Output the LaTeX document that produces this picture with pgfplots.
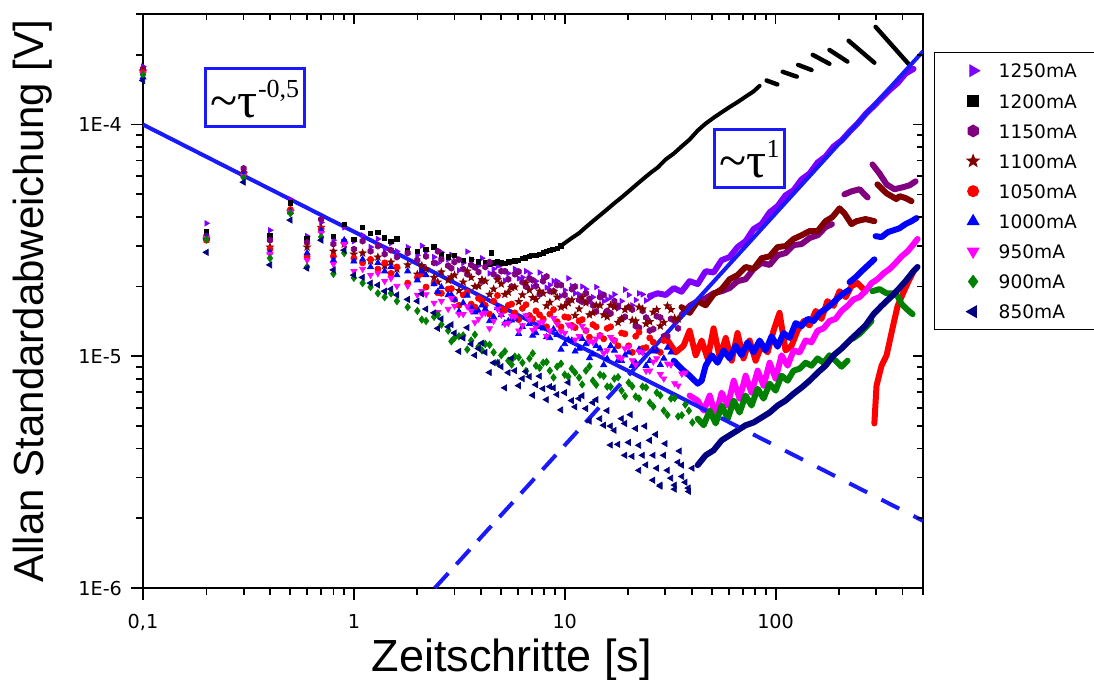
\documentclass[border=0pt]{standalone}
\usepackage{fontspec}
\setmainfont{Liberation Sans}
\newfontfamily\tfont{Liberation Serif}
\newfontfamily\dvfont{DejaVu Sans}
\usepackage{pgfplots}
\pgfplotsset{compat=1.18}
\usetikzlibrary{plotmarks}

\definecolor{c1250}{RGB}{128,0,255}
\definecolor{c1150}{RGB}{128,0,128}
\definecolor{c1100}{RGB}{128,0,0}
\definecolor{c1050}{RGB}{255,0,0}
\definecolor{c1000}{RGB}{0,0,255}
\definecolor{c950}{RGB}{255,0,255}
\definecolor{c900}{RGB}{0,128,0}
\definecolor{c850}{RGB}{0,0,128}
\definecolor{fitblue}{RGB}{25,25,250}

\pgfdeclareplotmark{hexagon*}{%
  \pgfpathmoveto{\pgfpointpolar{90}{\pgfplotmarksize}}%
  \pgfpathlineto{\pgfpointpolar{150}{\pgfplotmarksize}}%
  \pgfpathlineto{\pgfpointpolar{210}{\pgfplotmarksize}}%
  \pgfpathlineto{\pgfpointpolar{270}{\pgfplotmarksize}}%
  \pgfpathlineto{\pgfpointpolar{330}{\pgfplotmarksize}}%
  \pgfpathlineto{\pgfpointpolar{30}{\pgfplotmarksize}}%
  \pgfpathclose\pgfusepathqfillstroke}
\pgfdeclareplotmark{fstar}{%
  \pgfpathmoveto{\pgfpointpolar{90}{\pgfplotmarksize}}%
  \pgfpathlineto{\pgfpointpolar{126}{0.42\pgfplotmarksize}}%
  \pgfpathlineto{\pgfpointpolar{162}{\pgfplotmarksize}}%
  \pgfpathlineto{\pgfpointpolar{198}{0.42\pgfplotmarksize}}%
  \pgfpathlineto{\pgfpointpolar{234}{\pgfplotmarksize}}%
  \pgfpathlineto{\pgfpointpolar{270}{0.42\pgfplotmarksize}}%
  \pgfpathlineto{\pgfpointpolar{306}{\pgfplotmarksize}}%
  \pgfpathlineto{\pgfpointpolar{342}{0.42\pgfplotmarksize}}%
  \pgfpathlineto{\pgfpointpolar{18}{\pgfplotmarksize}}%
  \pgfpathlineto{\pgfpointpolar{54}{0.42\pgfplotmarksize}}%
  \pgfpathclose\pgfusepathqfillstroke}

\pgfplotsset{
  sc/.style={only marks, mark size=1.5pt, forget plot},
  dl/.style={no marks, line width=3pt, line join=round, line cap=round, forget plot},
  s1250/.style={color=c1250, mark=triangle*, mark options={rotate=-90}},
  s1200/.style={color=black, mark=square*},
  s1150/.style={color=c1150, mark=hexagon*},
  s1100/.style={color=c1100, mark=fstar},
  s1050/.style={color=c1050, mark=*},
  s1000/.style={color=c1000, mark=triangle*},
  s950/.style={color=c950, mark=triangle*, mark options={rotate=180}},
  s900/.style={color=c900, mark=diamond*},
  s850/.style={color=c850, mark=triangle*, mark options={rotate=90}},
  fit/.style={fitblue, line width=2pt, forget plot, no marks},
  li/.style={only marks, legend image code/.code={%
      \path (0pt,0pt) (18pt,0pt);
      \draw[##1] plot coordinates {(9pt,0pt)};}},
}

\begin{document}
\begin{tikzpicture}
\begin{axis}[
  scale only axis, width=390pt, height=287pt,
  xmode=log, ymode=log,
  xmin=0.1, xmax=500, ymin=1e-6, ymax=3e-4,
  xtick={0.1,1,10,100}, xticklabels={{0,1},1,10,100},
  ytick={1e-6,1e-5,1e-4}, yticklabels={1E-6,1E-5,1E-4},
  minor xtick={0.2,0.3,0.4,0.5,0.6,0.7,0.8,0.9,2,3,4,5,6,7,8,9,20,30,40,50,60,70,80,90,200,300,400,500},
  minor ytick={2e-6,3e-6,4e-6,5e-6,6e-6,7e-6,8e-6,9e-6,2e-5,3e-5,4e-5,5e-5,6e-5,7e-5,8e-5,9e-5,2e-4,3e-4},
  xtick pos=left, ytick pos=left, tick align=outside,
  major tick length=6pt, minor tick length=3.5pt,
  every tick/.style={black, line width=0.9pt},
  axis line style={line width=1pt},
  tick label style={font=\dvfont\fontsize{9.6}{11}\selectfont},
  x tick label style={yshift=-3.5pt},
  y tick label style={xshift=-1pt},
  xlabel={Zeitschritte [s]},
  ylabel={Allan Standardabweichung [V]},
  xlabel style={font=\fontsize{22.5}{26}\selectfont, at={(axis description cs:0.473,-0.1463)}, anchor=base},
  ylabel style={font=\fontsize{21}{25}\selectfont, at={(axis description cs:-0.128,0.5)}, anchor=base},
  legend cell align=left,
  legend style={at={(1.014,0.934)}, anchor=north west, draw=black, line width=0.6pt,
    font=\dvfont\fontsize{9.3}{11}\selectfont, inner xsep=10pt, inner ysep=5.5pt,
    row sep=7.86pt, column sep=3.5pt, nodes={inner sep=0pt, text height=7.2pt, text depth=0pt}},
]
\coordinate (LL) at (rel axis cs:0,0);
\coordinate (UR) at (rel axis cs:1,1);

\addlegendimage{s1250, li, mark size=3.2pt}\addlegendentry{1250mA}
\addlegendimage{s1200, li, mark size=2.7pt}\addlegendentry{1200mA}
\addlegendimage{s1150, li, mark size=2.9pt}\addlegendentry{1150mA}
\addlegendimage{s1100, li, mark size=3pt}\addlegendentry{1100mA}
\addlegendimage{s1050, li, mark size=2.7pt}\addlegendentry{1050mA}
\addlegendimage{s1000, li, mark size=3.2pt}\addlegendentry{1000mA}
\addlegendimage{s950, li, mark size=3.2pt}\addlegendentry{950mA}
\addlegendimage{s900, li, mark size=3pt}\addlegendentry{900mA}
\addlegendimage{s850, li, mark size=3.2pt}\addlegendentry{850mA}

% ---------- 1250 mA ----------
\addplot[s1250, sc] coordinates {
(0.1,1.78e-4)(0.2,3.75e-5)(0.3,6.28e-5)(0.4,3.50e-5)(0.5,4.76e-5)(0.6,3.30e-5)(0.7,3.78e-5)(0.8,3.17e-5)(0.9,3.60e-5)(1.0,3.14e-5)
(1.1,3.33e-5)(1.2,2.96e-5)(1.3,3.21e-5)(1.4,2.90e-5)(1.5,3.08e-5)(1.6,2.84e-5)(1.8,2.96e-5)(2.0,2.73e-5)(2.2,2.84e-5)(2.4,2.68e-5)
(2.6,2.81e-5)(2.8,2.62e-5)(3.0,2.70e-5)(3.3,2.53e-5)(3.6,2.62e-5)(3.9,2.46e-5)(4.2,2.53e-5)(4.6,2.38e-5)(5.0,2.48e-5)(5.4,2.28e-5)
(5.8,2.38e-5)(6.3,2.19e-5)(6.8,2.28e-5)(7.3,2.11e-5)(7.9,2.19e-5)(8.5,2.03e-5)(9.2,2.11e-5)(10,1.93e-5)(10.8,2.01e-5)(11.7,1.85e-5)
(12.6,1.95e-5)(13.6,1.80e-5)(14.7,1.89e-5)(15.9,1.76e-5)(17.2,1.85e-5)(18.6,1.73e-5)(20.1,1.84e-5)(21.7,1.75e-5)(23.4,1.85e-5)(25.3,1.78e-5)
(2.1,3.00e-5)(2.5,2.52e-5)(2.9,2.74e-5)(3.15,2.35e-5)(3.45,2.83e-5)(3.75,2.44e-5)(4.05,2.65e-5)(4.4,2.28e-5)(4.8,2.45e-5)(5.2,2.12e-5)
(5.6,2.54e-5)(6.05,2.17e-5)(6.55,2.33e-5)(7.05,1.99e-5)(7.6,2.30e-5)(8.2,1.98e-5)(8.85,2.11e-5)(9.6,1.82e-5)(10.4,2.17e-5)(11.2,1.87e-5)
(12.1,2.00e-5)(13.1,1.72e-5)(14.1,1.99e-5)(15.3,1.73e-5)(16.5,1.80e-5)(17.9,1.61e-5)(19.3,1.94e-5)(20.9,1.66e-5)(22.5,1.87e-5)(24.3,1.74e-5)};
\addplot[s1250, dl] coordinates {
(25.3,1.82e-5)(27.6,1.87e-5)(30.1,1.84e-5)(32.9,1.97e-5)(35.8,1.90e-5)(39.1,2.11e-5)(42.7,2.05e-5)(46.6,2.33e-5)(50.8,2.30e-5)(55.5,2.60e-5)
(60.5,2.68e-5)(66.0,2.96e-5)(72.1,3.14e-5)(78.6,3.54e-5)(85.8,3.72e-5)(93.7,4.18e-5)(102.2,4.45e-5)(111.5,4.95e-5)(121.7,5.21e-5)(132.8,5.80e-5)
(144.9,6.15e-5)(158.2,6.86e-5)(172.6,7.28e-5)(188.3,8.04e-5)(205.5,8.54e-5)(224.3,9.33e-5)(244.7,1.01e-4)(267.1,1.11e-4)(291.4,1.20e-4)(318.0,1.30e-4)
(347.0,1.41e-4)(378.7,1.51e-4)(413.2,1.66e-4)(450.9,1.74e-4)};

% ---------- 1200 mA ----------
\addplot[s1200, sc, mark size=1.1pt] coordinates {
(0.1,1.72e-4)(0.2,3.44e-5)(0.3,6.15e-5)(0.4,3.33e-5)(0.5,4.59e-5)(0.6,3.23e-5)(0.7,3.55e-5)(0.8,3.30e-5)(0.9,3.70e-5)(1.0,3.20e-5)
(1.1,3.61e-5)(1.2,3.40e-5)(1.3,3.43e-5)(1.4,3.24e-5)(1.5,3.14e-5)(1.6,3.21e-5)(1.8,2.87e-5)(2.0,2.84e-5)(2.2,2.90e-5)(2.4,2.96e-5)
(2.6,2.76e-5)(2.8,2.68e-5)(3.0,2.73e-5)(3.3,2.60e-5)(3.6,2.62e-5)(3.9,2.55e-5)(4.2,2.53e-5)(4.4,2.50e-5)(4.5,2.79e-5)(4.6,2.53e-5)
(4.8,2.55e-5)(5.0,2.53e-5)(5.2,2.52e-5)(5.4,2.55e-5)(5.6,2.57e-5)(5.8,2.58e-5)(6.0,2.60e-5)(6.3,2.65e-5)(6.5,2.66e-5)(6.8,2.70e-5)
(7.0,2.72e-5)(7.3,2.73e-5)(7.6,2.76e-5)(7.9,2.79e-5)(8.2,2.83e-5)(8.5,2.87e-5)(8.8,2.90e-5)(9.2,2.93e-5)(9.6,3.00e-5)};
\addplot[s1200, dl, line width=2pt] coordinates {
(9.6,3.00e-5)(10,3.08e-5)(10.8,3.24e-5)(11.7,3.40e-5)(12.6,3.61e-5)(13.6,3.83e-5)(14.7,4.06e-5)(15.9,4.31e-5)(17.2,4.58e-5)(18.6,4.85e-5)
(20.1,5.15e-5)(21.7,5.47e-5)(23.4,5.80e-5)(25.3,6.15e-5)(27.6,6.53e-5)(30.1,7.07e-5)(32.9,7.50e-5)(35.8,8.04e-5)(39.1,8.62e-5)(42.7,9.42e-5)
(46.6,1.01e-4)(50.8,1.07e-4)(55.5,1.13e-4)(60.5,1.19e-4)(66.0,1.25e-4)(72.1,1.32e-4)(78.6,1.39e-4)(84.0,1.47e-4)};
\addplot[s1200, dl, line width=2.2pt] coordinates {(90.6,1.55e-4)(102,1.49e-4)};
\addplot[s1200, dl, line width=2.2pt] coordinates {(108,1.69e-4)(126,1.61e-4)};
\addplot[s1200, dl, line width=2.2pt] coordinates {(128,1.81e-4)(148,1.72e-4)};
\addplot[s1200, dl, line width=2.2pt] coordinates {(150,2.00e-4)(180,1.83e-4)};
\addplot[s1200, dl, line width=2.2pt] coordinates {(180,2.10e-4)(219,1.87e-4)};
\addplot[s1200, dl, line width=2.2pt] coordinates {(222,2.30e-4)(294,1.85e-4)};
\addplot[s1200, dl, line width=2.2pt] coordinates {(298,2.64e-4)(431,1.81e-4)};

% ---------- 1150 mA ----------
\addplot[s1150, sc] coordinates {
(0.1,1.74e-4)(0.2,3.30e-5)(0.3,6.47e-5)(0.4,3.17e-5)(0.5,4.22e-5)(0.6,3.10e-5)(0.7,3.90e-5)(0.8,3.05e-5)(0.9,3.14e-5)(1.0,2.90e-5)
(1.1,3.14e-5)(1.2,2.84e-5)(1.3,2.99e-5)(1.4,2.76e-5)(1.5,2.87e-5)(1.6,2.68e-5)(1.8,2.79e-5)(2.0,2.60e-5)(2.2,2.70e-5)(2.4,2.53e-5)
(2.6,2.62e-5)(2.8,2.46e-5)(3.0,2.55e-5)(3.3,2.38e-5)(3.6,2.48e-5)(3.9,2.31e-5)(4.2,2.43e-5)(4.6,2.26e-5)(5.0,2.33e-5)(5.4,2.15e-5)
(5.8,2.26e-5)(6.3,2.09e-5)(6.8,2.17e-5)(7.3,2.01e-5)(7.9,2.11e-5)(8.5,1.91e-5)(9.2,2.03e-5)(10,1.84e-5)(10.8,1.95e-5)(11.7,1.75e-5)
(12.6,1.87e-5)(13.6,1.66e-5)(14.7,1.80e-5)(15.9,1.57e-5)(17.2,1.73e-5)(18.6,1.45e-5)(20.1,1.63e-5)(21.7,1.35e-5)(23.4,1.57e-5)(25.3,1.29e-5)
(27.3,1.49e-5)(29.5,1.22e-5)(31.9,1.45e-5)(34.5,1.32e-5)
(2.1,2.39e-5)(2.5,2.84e-5)(2.9,2.40e-5)(3.15,2.61e-5)(3.45,2.26e-5)(3.75,2.42e-5)(4.05,2.11e-5)(4.4,2.55e-5)(4.8,2.19e-5)(5.2,2.33e-5)
(5.6,2.00e-5)(6.05,2.32e-5)(6.55,2.00e-5)(7.05,2.13e-5)(7.6,1.85e-5)(8.2,2.21e-5)(8.85,1.91e-5)(9.6,2.03e-5)(10.4,1.74e-5)(11.2,2.00e-5)
(12.1,1.72e-5)(13.1,1.77e-5)(14.1,1.56e-5)(15.3,1.84e-5)(16.5,1.53e-5)(17.9,1.65e-5)(19.3,1.48e-5)(20.9,1.59e-5)(22.5,1.33e-5)(24.3,1.47e-5)
(26.3,1.31e-5)(28.4,1.47e-5)(30.7,1.22e-5)(33.2,1.42e-5)};
\addplot[s1150, dl] coordinates {
(35.8,1.51e-5)(39.1,1.65e-5)(42.7,1.73e-5)(46.6,1.78e-5)(50.8,1.87e-5)(55.5,1.91e-5)(60.5,1.97e-5)(66.0,2.11e-5)(72.1,2.15e-5)(78.6,2.38e-5)
(85.8,2.53e-5)(93.7,2.48e-5)(102.2,2.73e-5)(111.5,2.79e-5)(121.7,3.02e-5)(132.8,3.05e-5)(144.9,3.24e-5)(158.2,3.33e-5)(172.6,3.61e-5)(185,3.72e-5)};
\addplot[s1150, dl] coordinates {(212,5.00e-5)(229,5.15e-5)(250,5.26e-5)(273,4.85e-5)};
\addplot[s1150, dl] coordinates {(288,6.73e-5)(311,6.15e-5)(336,5.52e-5)(366,5.26e-5)(400,5.36e-5)(432,5.47e-5)(461,5.69e-5)};

% ---------- 1100 mA ----------
\addplot[s1100, sc, mark size=1.8pt] coordinates {
(0.1,1.70e-4)(0.2,3.20e-5)(0.3,6.16e-5)(0.4,2.96e-5)(0.5,4.22e-5)(0.6,2.96e-5)(0.7,3.60e-5)(0.8,2.84e-5)(0.9,3.05e-5)(1.0,2.76e-5)
(1.1,2.79e-5)(1.2,2.58e-5)(1.3,2.68e-5)(1.4,2.46e-5)(1.5,2.55e-5)(1.6,2.38e-5)(1.8,2.48e-5)(2.0,2.26e-5)(2.2,2.38e-5)(2.4,2.19e-5)
(2.6,2.31e-5)(2.8,2.13e-5)(3.0,2.24e-5)(3.3,2.09e-5)(3.6,2.19e-5)(3.9,2.01e-5)(4.2,2.11e-5)(4.6,1.95e-5)(5.0,2.05e-5)(5.4,1.89e-5)
(5.8,1.99e-5)(6.3,1.84e-5)(6.8,1.93e-5)(7.3,1.76e-5)(7.9,1.87e-5)(8.5,1.71e-5)(9.2,1.80e-5)(10,1.65e-5)(10.8,1.75e-5)(11.7,1.60e-5)
(12.6,1.70e-5)(13.6,1.54e-5)(14.7,1.66e-5)(15.9,1.48e-5)(17.2,1.63e-5)(18.6,1.45e-5)(20.1,1.63e-5)(21.7,1.42e-5)(23.4,1.60e-5)(25.3,1.41e-5)
(27.3,1.59e-5)(29.5,1.40e-5)(31.9,1.59e-5)(34.5,1.45e-5)
(2.1,2.46e-5)(2.5,2.09e-5)(2.9,2.20e-5)(3.15,1.92e-5)(3.45,2.33e-5)(3.75,2.00e-5)(4.05,2.14e-5)(4.4,1.85e-5)(4.8,2.14e-5)(5.2,1.85e-5)
(5.6,1.98e-5)(6.05,1.72e-5)(6.55,2.07e-5)(7.05,1.79e-5)(7.6,1.91e-5)(8.2,1.65e-5)(8.85,1.90e-5)(9.6,1.63e-5)(10.4,1.70e-5)(11.2,1.50e-5)
(12.1,1.80e-5)(13.1,1.51e-5)(14.1,1.66e-5)(15.3,1.51e-5)(16.5,1.66e-5)(17.9,1.40e-5)(19.3,1.59e-5)(20.9,1.43e-5)(22.5,1.63e-5)(24.3,1.38e-5)
(26.3,1.55e-5)(28.4,1.35e-5)(30.7,1.65e-5)(33.2,1.46e-5)};
\addplot[s1100, dl] coordinates {
(35.8,1.63e-5)(39.1,1.54e-5)(42.7,1.73e-5)(46.6,1.66e-5)(50.8,1.85e-5)(55.5,1.95e-5)(60.5,2.15e-5)(66.0,2.24e-5)(72.1,2.43e-5)(78.6,2.38e-5)
(85.8,2.65e-5)(93.7,2.70e-5)(102.2,2.96e-5)(111.5,2.99e-5)(121.7,3.21e-5)(132.8,3.33e-5)(144.9,3.47e-5)(158.2,3.47e-5)(172.6,3.83e-5)(186,3.99e-5)
(201,4.35e-5)(212,4.14e-5)(229,3.72e-5)(242,3.83e-5)(267,3.91e-5)(294,3.83e-5)};
\addplot[s1100, dl] coordinates {(304,5.52e-5)(336,5.05e-5)(374,4.77e-5)(387,4.91e-5)(413,4.82e-5)(441,4.67e-5)};

% ---------- 1050 mA ----------
\addplot[s1050, sc] coordinates {
(0.1,1.68e-4)(0.2,3.17e-5)(0.3,6.10e-5)(0.4,2.90e-5)(0.5,4.30e-5)(0.6,2.70e-5)(0.7,3.55e-5)(0.8,2.70e-5)(0.9,3.10e-5)(1.0,2.65e-5)
(1.1,2.53e-5)(1.2,2.62e-5)(1.3,2.38e-5)(1.4,2.53e-5)(1.5,2.28e-5)(1.6,2.43e-5)(1.8,2.07e-5)(2.0,2.19e-5)(2.2,1.99e-5)(2.4,2.07e-5)
(2.6,1.87e-5)(2.8,1.95e-5)(3.0,1.76e-5)(3.3,1.84e-5)(3.6,1.68e-5)(3.9,1.78e-5)(4.2,1.66e-5)(4.6,1.73e-5)(5.0,1.60e-5)(5.4,1.66e-5)
(5.8,1.54e-5)(6.3,1.61e-5)(6.8,1.50e-5)(7.3,1.57e-5)(7.9,1.45e-5)(8.5,1.52e-5)(9.2,1.41e-5)(10,1.48e-5)(10.8,1.36e-5)(11.7,1.42e-5)
(12.6,1.29e-5)(13.6,1.37e-5)(14.7,1.23e-5)(15.9,1.32e-5)(17.2,1.17e-5)(18.6,1.26e-5)(20.1,1.11e-5)(21.7,1.22e-5)(23.4,1.08e-5)(25.3,1.20e-5)
(27.3,1.06e-5)(29.5,1.17e-5)
(2.1,2.27e-5)(2.5,1.88e-5)(2.9,1.96e-5)(3.15,1.66e-5)(3.45,1.89e-5)(3.75,1.63e-5)(4.05,1.74e-5)(4.4,1.52e-5)(4.8,1.83e-5)(5.2,1.58e-5)
(5.6,1.68e-5)(6.05,1.44e-5)(6.55,1.67e-5)(7.05,1.45e-5)(7.6,1.51e-5)(8.2,1.34e-5)(8.85,1.59e-5)(9.6,1.34e-5)(10.4,1.47e-5)(11.2,1.33e-5)
(12.1,1.44e-5)(13.1,1.21e-5)(14.1,1.34e-5)(15.3,1.19e-5)(16.5,1.34e-5)(17.9,1.11e-5)(19.3,1.25e-5)(20.9,1.04e-5)(22.5,1.27e-5)(24.3,1.09e-5)
(26.3,1.15e-5)(28.4,1.04e-5)};
\addplot[s1050, dl] coordinates {
(30.8,1.17e-5)(33.6,1.04e-5)(36.6,1.11e-5)(39.1,1.29e-5)(41.8,1.01e-5)(44.6,1.17e-5)(47.6,9.79e-6)(50.8,1.32e-5)(54.3,9.88e-6)(58.0,1.20e-5)
(61.9,9.57e-6)(66.0,1.26e-5)(70.4,9.79e-6)(75.3,1.17e-5)(80.4,9.57e-6)(85.8,1.11e-5)(91.6,1.04e-5)(97.8,1.29e-5)(104.4,1.54e-5)(111.5,1.06e-5)
(119,1.11e-5)(127,1.29e-5)(136,1.42e-5)(144.9,1.36e-5)(155,1.57e-5)(165,1.45e-5)(176,1.73e-5)(188.3,1.65e-5)(201,1.91e-5)(215,1.80e-5)
(229,2.01e-5)(244.7,2.07e-5)(261,1.95e-5)};
\addplot[s1050, dl] coordinates {(294,5.13e-6)(301,7.47e-6)(318,9.11e-6)(336,1.01e-5)(359,1.33e-5)(379,1.65e-5)(400,1.85e-5)(423,2.07e-5)(451,2.33e-5)};

% ---------- 1000 mA ----------
\addplot[s1000, sc, mark size=1.7pt] coordinates {
(0.1,1.60e-4)(0.2,3.25e-5)(0.3,6.10e-5)(0.4,2.81e-5)(0.5,4.20e-5)(0.6,2.79e-5)(0.7,3.50e-5)(0.8,2.60e-5)(0.9,3.17e-5)(1.0,2.57e-5)
(1.1,2.62e-5)(1.2,2.43e-5)(1.3,2.53e-5)(1.4,2.33e-5)(1.5,2.43e-5)(1.6,2.24e-5)(1.8,2.33e-5)(2.0,2.13e-5)(2.2,2.24e-5)(2.4,2.05e-5)
(2.6,1.99e-5)(2.8,1.84e-5)(3.0,1.76e-5)(3.3,1.70e-5)(3.6,1.63e-5)(3.9,1.57e-5)(4.2,1.60e-5)(4.6,1.48e-5)(5.0,1.51e-5)(5.4,1.42e-5)
(5.8,1.45e-5)(6.3,1.34e-5)(6.8,1.38e-5)(7.3,1.26e-5)(7.9,1.32e-5)(8.5,1.20e-5)(9.2,1.24e-5)(10,1.13e-5)(10.8,1.17e-5)(11.7,1.08e-5)
(12.6,1.13e-5)(13.6,1.02e-5)(14.7,1.08e-5)(15.9,9.76e-6)(17.2,1.06e-5)(18.6,9.57e-6)(20.1,1.04e-5)(21.7,9.38e-6)(23.4,1.04e-5)(25.3,9.57e-6)
(27.3,1.06e-5)(29.5,9.79e-6)(31.9,1.04e-5)
(2.1,2.33e-5)(2.5,1.90e-5)(2.9,1.84e-5)(3.15,1.56e-5)(3.45,1.83e-5)(3.75,1.55e-5)(4.05,1.66e-5)(4.4,1.42e-5)(4.8,1.62e-5)(5.2,1.39e-5)
(5.6,1.43e-5)(6.05,1.25e-5)(6.55,1.48e-5)(7.05,1.23e-5)(7.6,1.34e-5)(8.2,1.21e-5)(8.85,1.31e-5)(9.6,1.07e-5)(10.4,1.18e-5)(11.2,1.05e-5)
(12.1,1.19e-5)(13.1,9.84e-6)(14.1,1.11e-5)(15.3,9.18e-6)(16.5,1.11e-5)(17.9,9.60e-6)(19.3,1.01e-5)(20.9,9.11e-6)(22.5,1.07e-5)(24.3,9.11e-6)
(26.3,1.05e-5)(28.4,9.19e-6)(30.7,1.09e-5)};
\addplot[s1000, dl] coordinates {
(32.9,9.57e-6)(35.8,8.84e-6)(39.1,8.25e-6)(42.7,7.62e-6)(44.6,7.85e-6)(46.6,9.11e-6)(49.8,1.01e-5)(53.1,9.38e-6)(56.7,1.06e-5)(60.5,9.79e-6)
(64.6,1.11e-5)(69.0,1.01e-5)(73.6,1.15e-5)(78.6,1.04e-5)(84.0,1.17e-5)(89.7,1.06e-5)(95.7,1.22e-5)(102.2,1.10e-5)(109.1,1.26e-5)(116.5,1.20e-5)
(124.4,1.39e-5)(132.8,1.35e-5)(141.8,1.45e-5)(151.4,1.42e-5)(161.7,1.54e-5)(172.6,1.60e-5)(184,1.68e-5)(197,1.78e-5)(210,1.87e-5)(222,1.93e-5)};
\addplot[s1000, dl] coordinates {(224.3,2.09e-5)(239,2.19e-5)(256,2.33e-5)(273,2.46e-5)(294,2.62e-5)};
\addplot[s1000, dl] coordinates {(298,3.30e-5)(318,3.27e-5)(340,3.43e-5)(363,3.50e-5)(387,3.57e-5)(413,3.72e-5)(441,3.83e-5)(466,3.95e-5)};

% ---------- 950 mA ----------
\addplot[s950, sc, mark size=1.7pt] coordinates {
(0.1,1.66e-4)(0.2,3.23e-5)(0.3,6.00e-5)(0.4,2.76e-5)(0.5,4.20e-5)(0.6,2.60e-5)(0.7,3.40e-5)(0.8,2.50e-5)(0.9,3.05e-5)(1.0,2.33e-5)
(1.1,2.38e-5)(1.2,2.24e-5)(1.3,2.28e-5)(1.4,2.11e-5)(1.5,2.17e-5)(1.6,2.01e-5)(1.8,2.01e-5)(2.0,1.84e-5)(2.2,1.85e-5)(2.4,1.70e-5)
(2.6,1.73e-5)(2.8,1.60e-5)(3.0,1.65e-5)(3.3,1.52e-5)(3.6,1.57e-5)(3.9,1.45e-5)(4.2,1.54e-5)(4.6,1.42e-5)(5.0,1.51e-5)(5.4,1.39e-5)
(5.8,1.48e-5)(6.3,1.36e-5)(6.8,1.44e-5)(7.3,1.33e-5)(7.9,1.41e-5)(8.5,1.29e-5)(9.2,1.38e-5)(10,1.26e-5)(10.8,1.34e-5)(11.7,1.22e-5)
(12.6,1.29e-5)(13.6,1.15e-5)(14.7,1.23e-5)(15.9,1.06e-5)(17.2,1.17e-5)(18.6,9.79e-6)(20.1,1.10e-5)(21.7,9.20e-6)(23.4,1.04e-5)(25.3,8.67e-6)
(27.3,9.79e-6)(29.5,8.01e-6)(31.9,9.20e-6)(34.5,7.47e-6)(37.3,8.50e-6)
(2.1,1.91e-5)(2.5,1.55e-5)(2.9,1.78e-5)(3.15,1.52e-5)(3.45,1.64e-5)(3.75,1.40e-5)(4.05,1.52e-5)(4.4,1.32e-5)(4.8,1.60e-5)(5.2,1.38e-5)
(5.6,1.49e-5)(6.05,1.29e-5)(6.55,1.50e-5)(7.05,1.30e-5)(7.6,1.40e-5)(8.2,1.22e-5)(8.85,1.46e-5)(9.6,1.28e-5)(10.4,1.37e-5)(11.2,1.18e-5)
(12.1,1.35e-5)(13.1,1.16e-5)(14.1,1.19e-5)(15.3,1.03e-5)(16.5,1.21e-5)(17.9,9.95e-6)(19.3,1.08e-5)(20.9,9.60e-6)(22.5,1.05e-5)(24.3,8.65e-6)
(26.3,9.48e-6)(28.4,8.37e-6)(30.7,9.29e-6)(33.2,7.64e-6)(35.9,8.40e-6)};
\addplot[s950, dl] coordinates {
(39.1,6.77e-6)(42.7,6.44e-6)(45.6,5.83e-6)(48.7,6.77e-6)(52.0,5.55e-6)(55.5,6.97e-6)(59.3,6.13e-6)(63.3,7.85e-6)(67.5,6.57e-6)(72.1,8.25e-6)
(76.9,6.97e-6)(82.2,8.67e-6)(87.7,7.47e-6)(93.7,9.38e-6)(100,8.01e-6)(106.7,1.01e-5)(114,9.11e-6)(121.7,1.06e-5)(130,1.04e-5)(138.6,1.17e-5)
(148,1.15e-5)(158.2,1.29e-5)(168.8,1.32e-5)(180.2,1.42e-5)(192.4,1.45e-5)(205.5,1.57e-5)(219.3,1.65e-5)(234.2,1.76e-5)(250,1.80e-5)(267.1,1.91e-5)
(285,2.07e-5)(304,2.15e-5)(325,2.28e-5)(347,2.38e-5)(371,2.53e-5)(396,2.70e-5)(423,2.84e-5)(451,3.05e-5)(471,3.21e-5)};

% ---------- 900 mA ----------
\addplot[s900, sc, mark size=1.8pt] coordinates {
(0.1,1.64e-4)(0.2,3.20e-5)(0.3,5.90e-5)(0.4,2.65e-5)(0.5,4.14e-5)(0.6,2.43e-5)(0.7,3.27e-5)(0.8,2.27e-5)(0.9,2.79e-5)(1.0,2.18e-5)
(1.1,2.07e-5)(1.2,1.99e-5)(1.3,1.87e-5)(1.4,1.80e-5)(1.5,1.87e-5)(1.6,1.73e-5)(1.8,1.63e-5)(2.0,1.57e-5)(2.2,1.42e-5)(2.4,1.48e-5)
(2.6,1.37e-5)(2.8,1.29e-5)(3.0,1.20e-5)(3.3,1.23e-5)(3.6,1.17e-5)(3.9,1.10e-5)(4.2,1.13e-5)(4.6,1.04e-5)(5.0,1.01e-5)(5.4,9.57e-6)
(5.8,9.97e-6)(6.3,9.38e-6)(6.8,9.79e-6)(7.3,9.11e-6)(7.9,9.38e-6)(8.5,8.67e-6)(9.2,9.02e-6)(10,8.33e-6)(10.8,8.84e-6)(11.7,8.09e-6)
(12.6,8.67e-6)(13.6,7.85e-6)(14.7,8.33e-6)(15.9,7.40e-6)(17.2,8.01e-6)(18.6,7.11e-6)(20.1,7.70e-6)(21.7,6.70e-6)(23.4,7.40e-6)(25.3,6.31e-6)
(27.3,6.97e-6)(29.5,5.83e-6)(31.9,6.57e-6)(34.5,5.50e-6)(37.3,6.19e-6)(40.3,5.18e-6)
(2.1,1.44e-5)(2.5,1.51e-5)(2.9,1.16e-5)(3.15,1.22e-5)(3.45,1.07e-5)(3.75,1.24e-5)(4.05,1.06e-5)(4.4,1.12e-5)(4.8,9.37e-6)(5.2,1.05e-5)
(5.6,9.21e-6)(6.05,9.89e-6)(6.55,8.64e-6)(7.05,1.03e-5)(7.6,8.92e-6)(8.2,9.45e-6)(8.85,8.10e-6)(9.6,9.29e-6)(10.4,8.17e-6)(11.2,8.50e-6)
(12.1,7.56e-6)(13.1,9.05e-6)(14.1,7.53e-6)(15.3,8.22e-6)(16.5,7.39e-6)(17.9,8.13e-6)(19.3,6.73e-6)(20.9,7.42e-6)(22.5,6.58e-6)(24.3,7.34e-6)
(26.3,6.07e-6)(28.4,6.78e-6)(30.7,5.58e-6)(33.2,6.60e-6)(35.9,5.57e-6)(38.8,5.82e-6)};
\addplot[s900, dl] coordinates {
(42.7,5.38e-6)(45.6,5.04e-6)(48.7,5.83e-6)(52.0,5.13e-6)(55.5,6.13e-6)(59.3,5.38e-6)(63.3,6.44e-6)(67.5,5.72e-6)(72.1,6.77e-6)(76.9,6.13e-6)
(82.2,7.25e-6)(87.7,6.57e-6)(93.7,7.62e-6)(100,7.11e-6)(106.7,8.25e-6)(114,7.85e-6)(121.7,8.67e-6)(130,8.84e-6)(138.6,9.38e-6)(148,9.11e-6)
(158.2,9.79e-6)(168.8,9.38e-6)(180.2,1.01e-5)(192.4,9.57e-6)(205.5,9.02e-6)(219.3,9.57e-6)};
\addplot[s900, dl] coordinates {(231.7,1.19e-5)(250,1.25e-5)(267.1,1.33e-5)(285,1.42e-5)};
\addplot[s900, dl] coordinates {(288,1.91e-5)(311,1.95e-5)(336,1.87e-5)(359,1.87e-5)(379,1.82e-5)(396,1.68e-5)(418,1.60e-5)(446,1.52e-5)};

% ---------- 850 mA ----------
\addplot[s850, sc, mark size=1.7pt] coordinates {
(0.1,1.55e-4)(0.2,2.81e-5)(0.3,5.64e-5)(0.4,2.48e-5)(0.5,3.87e-5)(0.6,2.40e-5)(0.7,3.17e-5)(0.8,2.36e-5)(0.9,2.87e-5)(1.0,2.24e-5)
(1.1,2.19e-5)(1.2,2.07e-5)(1.3,2.03e-5)(1.4,1.91e-5)(1.5,1.95e-5)(1.6,1.84e-5)(1.8,1.76e-5)(2.0,1.73e-5)(2.2,1.60e-5)(2.4,1.54e-5)
(2.6,1.45e-5)(2.8,1.34e-5)(3.0,1.26e-5)(3.3,1.20e-5)(3.6,1.13e-5)(3.9,1.08e-5)(4.2,1.04e-5)(4.6,9.38e-6)(5.0,9.02e-6)(5.4,8.50e-6)
(5.8,8.67e-6)(6.3,8.01e-6)(6.8,8.17e-6)(7.3,7.54e-6)(7.9,7.25e-6)(8.5,7.40e-6)(9.2,6.84e-6)(10,6.97e-6)(10.8,6.44e-6)(11.7,6.57e-6)
(12.6,5.95e-6)(13.6,6.31e-6)(14.7,5.38e-6)(15.9,5.83e-6)(16.5,4.14e-6)(17.2,4.79e-6)(18.6,5.38e-6)(19.3,3.74e-6)(20.1,4.25e-6)(21.7,4.88e-6)
(22.5,3.22e-6)(23.4,3.74e-6)(25.3,4.34e-6)(26.2,2.92e-6)(27.3,3.29e-6)(28.4,2.78e-6)(29.5,3.74e-6)(31.9,2.98e-6)(33.2,2.78e-6)(34.5,3.49e-6)
(36.0,3.03e-6)(37.3,2.86e-6)(38.6,2.70e-6)(40.3,3.29e-6)
(2.1,1.86e-5)(2.5,1.32e-5)(2.9,1.37e-5)(3.15,1.05e-5)(3.45,1.33e-5)(3.75,1.01e-5)(4.05,1.14e-5)(4.4,8.51e-6)(4.8,9.38e-6)(5.2,7.31e-6)
(5.6,9.80e-6)(6.05,7.47e-6)(6.55,8.59e-6)(7.05,6.79e-6)(7.6,8.21e-6)(8.2,6.50e-6)(8.85,7.31e-6)(9.6,5.87e-6)(10.4,7.71e-6)(11.2,6.05e-6)
(12.1,6.76e-6)(13.1,5.25e-6)(14.1,6.50e-6)(15.3,5.04e-6)(16.5,5.00e-6)(17.9,4.17e-6)(19.3,5.13e-6)(20.9,3.70e-6)(22.5,4.13e-6)(24.3,3.40e-6)
(26.3,3.74e-6)(28.4,2.75e-6)(30.7,3.22e-6)(33.2,2.67e-6)(35.9,3.39e-6)(38.8,2.61e-6)
(20.5,5.60e-6)(24.0,5.00e-6)(27.0,4.60e-6)(30.0,4.20e-6)(35.0,3.90e-6)};
\addplot[s850, dl] coordinates {
(42.7,3.39e-6)(46.6,3.74e-6)(50.8,3.93e-6)(55.5,4.34e-6)(60.5,4.56e-6)(66.0,4.79e-6)(72.1,5.04e-6)(78.6,5.18e-6)(85.8,5.44e-6)(93.7,5.72e-6)
(102.2,6.13e-6)(111.5,6.44e-6)(121.7,6.90e-6)(132.8,7.33e-6)(144.9,7.85e-6)(158.2,8.50e-6)(172.6,9.11e-6)(188.3,1.01e-5)(205.5,1.08e-5)(224.3,1.17e-5)
(244.7,1.26e-5)(267.1,1.36e-5)(291.4,1.52e-5)(318,1.65e-5)(347,1.78e-5)(378.7,1.93e-5)(413.2,2.11e-5)(450.9,2.33e-5)(471,2.43e-5)};

% ---------- fit lines ----------
\addplot[fit] coordinates {(0.1,1e-4)(47.1,5.82e-6)};
\addplot[fit, dash pattern=on 10pt off 8pt, dash phase=10pt] coordinates {(47.1,5.82e-6)(500,1.95e-6)};
\addplot[fit, dash pattern=on 10pt off 6pt] coordinates {(2.42,1e-6)(21.5,8.88e-6)};
\addplot[fit] coordinates {(21.5,8.88e-6)(500,2.07e-4)};

\node[draw=fitblue, line width=1.5pt, inner xsep=2.5pt, inner ysep=4.25pt, text height=20pt, text depth=0.5pt,
  font=\tfont\fontsize{25}{25}\selectfont] at (axis cs:0.34,1.306e-4)
  {\textasciitilde τ\raisebox{10pt}{\fontsize{13}{13}\selectfont -0,5}};
\node[draw=fitblue, line width=1.5pt, inner xsep=2.5pt, inner ysep=4.25pt, text height=20pt, text depth=0.5pt,
  font=\tfont\fontsize{25}{25}\selectfont] at (axis cs:75.3,7.14e-5)
  {\textasciitilde τ\raisebox{10pt}{\fontsize{13}{13}\selectfont 1}};
\end{axis}

% mirrored inner ticks on top and right
\begin{axis}[
  scale only axis, width=390pt, height=287pt,
  xmode=log, ymode=log,
  xmin=0.1, xmax=500, ymin=1e-6, ymax=3e-4,
  xtick={0.1,1,10,100}, xticklabels={},
  ytick={1e-6,1e-5,1e-4}, yticklabels={},
  minor xtick={0.2,0.3,0.4,0.5,0.6,0.7,0.8,0.9,2,3,4,5,6,7,8,9,20,30,40,50,60,70,80,90,200,300,400,500},
  minor ytick={2e-6,3e-6,4e-6,5e-6,6e-6,7e-6,8e-6,9e-6,2e-5,3e-5,4e-5,5e-5,6e-5,7e-5,8e-5,9e-5,2e-4,3e-4},
  xtick pos=right, ytick pos=right, tick align=inside,
  major tick length=5pt, minor tick length=3pt,
  every tick/.style={black, line width=0.8pt},
  axis line style={draw=none},
]
\end{axis}

\pgfresetboundingbox
\path (LL) ++(-71.5pt,-46pt) rectangle ([shift={(85.5pt,7pt)}]UR);
\end{tikzpicture}
\end{document}
